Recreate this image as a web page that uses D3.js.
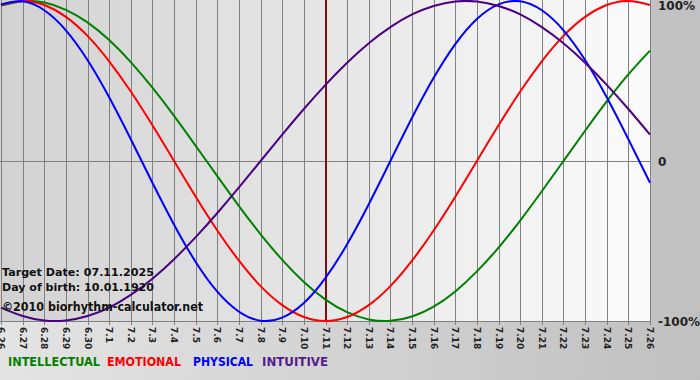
<!DOCTYPE html>
<html><head><meta charset="utf-8">
<script src="https://cdn.jsdelivr.net/npm/d3@7"></script>
<style>html,body{margin:0;padding:0;background:#d0d0d0;}svg{display:block;}</style>
</head><body>
<svg id="c" width="700" height="380"></svg>
<script>
const days = ["6.26","6.27","6.28","6.29","6.30","7.1","7.2","7.3","7.4","7.5","7.6","7.7","7.8","7.9","7.10","7.11","7.12","7.13","7.14","7.15","7.16","7.17","7.18","7.19","7.20","7.21","7.22","7.23","7.24","7.25","7.26"];
const physical = [0.979,0.998,0.942,0.817,0.631,0.398,0.136,-0.136,-0.398,-0.631,-0.817,-0.942,-0.998,-0.979,-0.888,-0.731,-0.520,-0.270,0,0.270,0.520,0.731,0.888,0.979,0.998,0.942,0.817,0.631,0.398,0.136,-0.136];
const emotional = [0.975,1,0.975,0.901,0.782,0.623,0.434,0.223,0,-0.223,-0.434,-0.623,-0.782,-0.901,-0.975,-1,-0.975,-0.901,-0.782,-0.623,-0.434,-0.223,0,0.223,0.434,0.623,0.782,0.901,0.975,1,0.975];
const intellectual = [0.972,0.999,0.990,0.945,0.866,0.756,0.618,0.458,0.282,0.095,-0.095,-0.282,-0.458,-0.618,-0.756,-0.866,-0.945,-0.990,-0.999,-0.972,-0.910,-0.815,-0.690,-0.541,-0.372,-0.189,0,0.189,0.372,0.541,0.690];
const intuitive = [-0.916,-0.969,-0.997,-0.997,-0.969,-0.916,-0.837,-0.736,-0.614,-0.476,-0.325,-0.165,0,0.165,0.325,0.476,0.614,0.736,0.837,0.916,0.969,0.997,0.997,0.969,0.916,0.837,0.736,0.614,0.476,0.325,0.165];
const yTicks = [{v:1,label:"100%"},{v:0,label:"0"},{v:-1,label:"-100%"}];
const legendNames = ["INTELLECTUAL","EMOTIONAL","PHYSICAL","INTUITIVE"];
const infoLines = ["Target Date: 07.11.2025","Day of birth: 10.01.1920","\u00a92010 biorhythm-calculator.net"];
const targetIndex = 15;

const series = [
  {name:"INTELLECTUAL", values:intellectual, color:"#008000"},
  {name:"EMOTIONAL", values:emotional, color:"#ff0000"},
  {name:"PHYSICAL", values:physical, color:"#0000ff"},
  {name:"INTUITIVE", values:intuitive, color:"#4b0082"}
];
const legendColors = {"INTELLECTUAL":"#008000","EMOTIONAL":"#ff0000","PHYSICAL":"#0000ff","INTUITIVE":"#551a8b"};
const legendX = [8,107,193,262];
const legendW = [92,74,60,66];

const svg = d3.select("#c");
const defs = svg.append("defs");
const bg = defs.append("linearGradient").attr("id","bg").attr("x1",0).attr("x2",1).attr("y1",0).attr("y2",0);
bg.append("stop").attr("offset","0%").attr("stop-color","#e4e4e4");
bg.append("stop").attr("offset","100%").attr("stop-color","#c0c0c0");
const pg = defs.append("linearGradient").attr("id","pg").attr("x1",0).attr("x2",1).attr("y1",0).attr("y2",0);
pg.append("stop").attr("offset","0%").attr("stop-color","#d2d2d2");
pg.append("stop").attr("offset","100%").attr("stop-color","#fbfbfb");
defs.append("clipPath").attr("id","clip").append("rect").attr("x",0).attr("y",0).attr("width",651).attr("height",322);

svg.append("rect").attr("width",700).attr("height",380).attr("fill","url(#bg)");

const x = d3.scaleLinear().domain([0, days.length-1]).range([1, 650]);
const y = d3.scaleLinear().domain([-1, 1]).range([321, 1]);

svg.append("rect").attr("x",0).attr("y",0).attr("width",651).attr("height",321).attr("fill","url(#pg)");

// vertical grid
svg.append("g").selectAll("line").data(days).join("line")
  .attr("x1",(d,i)=>Math.round(x(i))+0.5).attr("x2",(d,i)=>Math.round(x(i))+0.5)
  .attr("y1",0).attr("y2",325)
  .attr("stroke","#808080").attr("stroke-width",1);
// zero line
svg.append("line").attr("x1",0).attr("x2",651).attr("y1",Math.round(y(0))+0.5).attr("y2",Math.round(y(0))+0.5)
  .attr("stroke","#808080").attr("stroke-width",1);
// bottom border
svg.append("line").attr("x1",0).attr("x2",651).attr("y1",321.5).attr("y2",321.5).attr("stroke","#808080");

// x labels
svg.append("g").selectAll("text").data(days).join("text")
  .attr("transform",(d,i)=>`translate(${Math.round(x(i))-3},327) rotate(90)`)
  .attr("font-family","DejaVu Sans, Verdana, sans-serif").attr("font-size",9).attr("font-weight","bold")
  .attr("fill","#222").text(d=>d);

// y labels
svg.append("g").selectAll("text").data(yTicks).join("text")
  .attr("x",658).attr("y",d=>y(d.v)+5 + (d.v===1?4:0))
  .attr("font-family","DejaVu Sans, Verdana, sans-serif").attr("font-size",12).attr("font-weight","bold")
  .attr("fill","#222").text(d=>d.label);

// target marker
svg.append("line").attr("x1",Math.round(x(targetIndex))).attr("x2",Math.round(x(targetIndex)))
  .attr("y1",0).attr("y2",321).attr("stroke","#7a1010").attr("stroke-width",2);

const line = d3.line().x((d,i)=>x(i)).y(d=>y(d)).curve(d3.curveNatural);
const g = svg.append("g").attr("clip-path","url(#clip)");
series.forEach(s=>{
  g.append("path").attr("d",line(s.values)).attr("fill","none")
   .attr("stroke",s.color).attr("stroke-width",2);
});

// info text
const infoY = [276,291,311];
const infoW = [152,152,201];
svg.append("g").selectAll("text").data(infoLines).join("text")
  .attr("x",2).attr("y",(d,i)=>infoY[i])
  .attr("font-family","DejaVu Sans, Verdana, sans-serif")
  .attr("font-size",(d,i)=>i===2?12:11).attr("font-weight","bold")
  .attr("textLength",(d,i)=>infoW[i]).attr("lengthAdjust","spacingAndGlyphs")
  .attr("fill","#111").text(d=>d);

// legend
svg.append("g").selectAll("text").data(legendNames).join("text")
  .attr("x",(d,i)=>legendX[i]).attr("y",366)
  .attr("font-family","DejaVu Sans, Verdana, sans-serif").attr("font-size",11.5).attr("font-weight","bold")
  .attr("textLength",(d,i)=>legendW[i]).attr("lengthAdjust","spacingAndGlyphs")
  .attr("fill",d=>legendColors[d]).text(d=>d);
</script>
</body></html>
